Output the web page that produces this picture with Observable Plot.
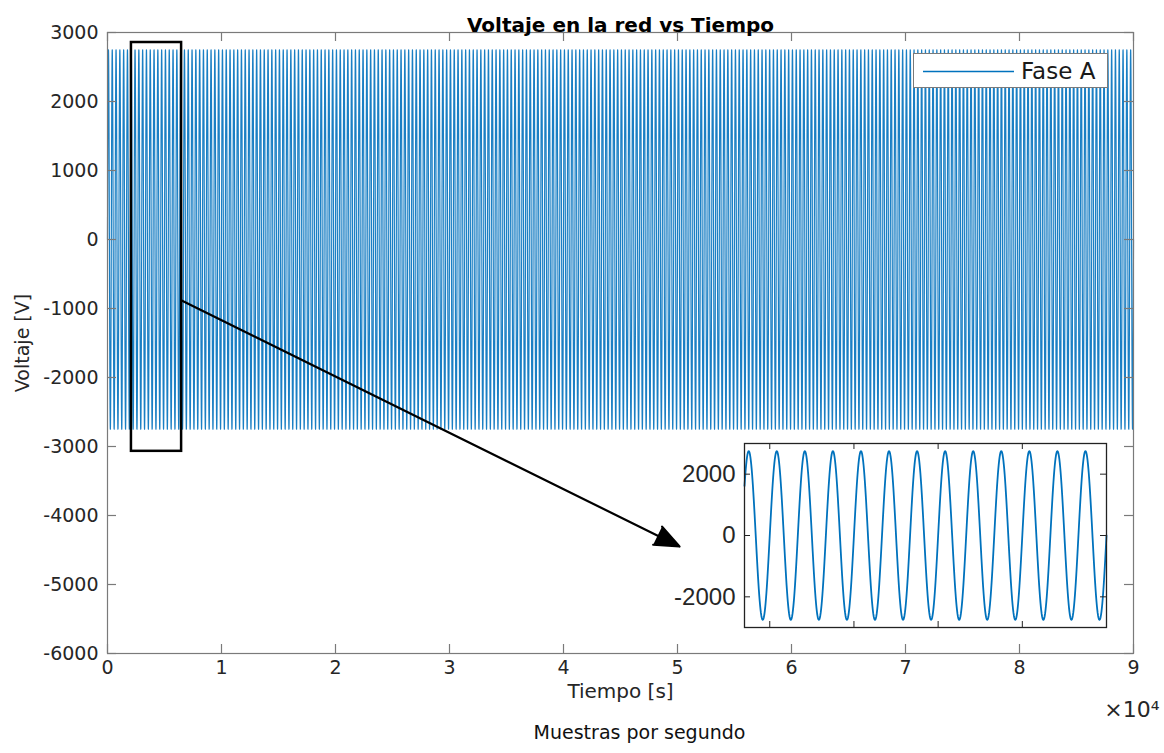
<!DOCTYPE html>
<html>
<head>
<meta charset="utf-8">
<script src="https://cdn.jsdelivr.net/npm/d3@7"></script>
<script src="https://cdn.jsdelivr.net/npm/@observablehq/plot@0.6"></script>
<style>
  body { margin: 0; background: #fff; }
  #wrap { position: relative; width: 1164px; height: 753px; overflow: hidden; background: #fff; font-family: "DejaVu Sans", sans-serif; }
  #main, #inset { position: absolute; }
  #main { left: 0; top: 0; }
  #inset { left: 694px; top: 442px; }
  #legend { position: absolute; left: 913px; top: 53px; width: 195px; height: 35px; box-sizing: border-box; border: 1px solid #7a7a7a; background: #fff; }
  #legend svg { position: absolute; left: 0; top: 0; }
  #legend .label { position: absolute; left: 107px; top: 0; line-height: 34px; font-size: 23px; color: #1a1a1a; font-family: "DejaVu Sans", sans-serif; }
</style>
</head>
<body>
<div id="wrap">
  <div id="main"></div>
  <div id="inset"></div>
  <div id="legend"><svg width="105" height="34"><line x1="9" x2="100" y1="17.5" y2="17.5" stroke="#0072BD" stroke-width="1.4"></line></svg><div class="label"></div></div>
</div>
<script>
// ---- texts ----
const title = "Voltaje en la red vs Tiempo";
const xLabel = "Tiempo [s]";
const yLabel = "Voltaje [V]";
const caption = "Muestras por segundo";
const exponentLabel = "×10⁴";
const seriesName = "Fase A";

// ---- ticks ----
const xTicks = [0, 10000, 20000, 30000, 40000, 50000, 60000, 70000, 80000, 90000];
const xTickLabels = ["0", "1", "2", "3", "4", "5", "6", "7", "8", "9"];
const yTicks = [-6000, -5000, -4000, -3000, -2000, -1000, 0, 1000, 2000, 3000];
const yTickLabels = ["-6000", "-5000", "-4000", "-3000", "-2000", "-1000", "0", "1000", "2000", "3000"];
const xDomain = [0, 90000];
const yDomain = [-6000, 3000];

// ---- signal (peak ~2750 V, ~333 samples per cycle) ----
const peakVoltage = 2750;
const lineFrequencyHz = 60;
const samplesPerSecond = 20000;
const totalSamples = 90000;
const sampleStep = 5;

// ---- zoom annotation ----
const zoomX = [2100, 6500];
const zoomY = [-3070, 2855];
const arrowStart = [6500, -883];
const arrowEnd = [50175, -4449];

// ---- inset ----
const insetXDomain = [2700, 7000];
const insetYDomain = [-3000, 3000];
const insetXTicks = [3000, 4000, 5000, 6000];
const insetYTicks = [-2000, 0, 2000];
const insetYTickLabels = ["-2000", "0", "2000"];

const samples = d3.range(0, totalSamples + 1, sampleStep).map(n => ({
  n,
  v: peakVoltage * Math.sin(2 * Math.PI * lineFrequencyHz * n / samplesPerSecond)
}));
const insetSamples = samples.filter(d => d.n >= insetXDomain[0] && d.n <= insetXDomain[1]);

const W = 1164, H = 753, mt = 32, mr = 31, mb = 100, ml = 107;
const fw = W - ml - mr, fh = H - mt - mb;
const axisGray = "#7a7a7a";
const textGray = "#262626";
const tk = 9;

const main = Plot.plot({
  width: W, height: H,
  marginTop: mt, marginRight: mr, marginBottom: mb, marginLeft: ml,
  style: { fontFamily: "DejaVu Sans, sans-serif", background: "white", overflow: "visible" },
  x: { domain: xDomain },
  y: { domain: yDomain },
  marks: [
    Plot.line(samples, { x: "n", y: "v", stroke: "#1a7fc4", strokeWidth: 1.2 }),
    Plot.frame({ stroke: axisGray, strokeWidth: 1.2 }),
    Plot.tickX(xTicks, { x: d => d, stroke: axisGray, strokeWidth: 1.2, insetTop: fh - tk }),
    Plot.tickX(xTicks, { x: d => d, stroke: axisGray, strokeWidth: 1.2, insetBottom: fh - tk }),
    Plot.tickY(yTicks, { y: d => d, stroke: axisGray, strokeWidth: 1.2, insetRight: fw - tk }),
    Plot.tickY(yTicks, { y: d => d, stroke: axisGray, strokeWidth: 1.2, insetLeft: fw - tk }),
    Plot.axisX({ ticks: xTicks, tickFormat: d => xTickLabels[xTicks.indexOf(d)], tickSize: 0, tickPadding: 7, fontSize: 19, fill: textGray, label: null }),
    Plot.axisY({ ticks: yTicks, tickFormat: d => yTickLabels[yTicks.indexOf(d)], tickSize: 0, tickPadding: 9, fontSize: 19, fill: textGray, label: null }),
    Plot.rect([{ x1: zoomX[0], x2: zoomX[1], y1: zoomY[0], y2: zoomY[1] }], { x1: "x1", x2: "x2", y1: "y1", y2: "y2", stroke: "black", strokeWidth: 2.5, fill: "none" }),
    Plot.arrow([{ x1: arrowStart[0], y1: arrowStart[1], x2: arrowEnd[0], y2: arrowEnd[1] }], { x1: "x1", y1: "y1", x2: "x2", y2: "y2", stroke: "black", fill: "black", strokeWidth: 2.2, headLength: 18, headAngle: 45 }),
    Plot.text([title], { frameAnchor: "top", dy: -15, fontSize: 20, fontWeight: "bold", fill: "black" }),
    Plot.text([xLabel], { frameAnchor: "bottom", dy: 44, fontSize: 20, fill: textGray }),
    Plot.text([caption], { frameAnchor: "bottom", dx: 19, dy: 85, fontSize: 19, fill: "#111" }),
    Plot.text([exponentLabel], { frameAnchor: "bottom-right", dx: 26, dy: 63, textAnchor: "end", fontSize: 22, fill: textGray }),
    Plot.text([yLabel], { frameAnchor: "left", dx: -85, rotate: -90, textAnchor: "middle", fontSize: 19, fill: textGray })
  ]
});
document.getElementById("main").appendChild(main);

const iW = 412, iH = 186, iml = 50, imt = 1, imr = 0, imb = 1;
const ifw = iW - iml - imr, ifh = iH - imt - imb;
const ik = 6;
const inset = Plot.plot({
  width: iW, height: iH,
  marginTop: imt, marginRight: imr, marginBottom: imb, marginLeft: iml,
  style: { fontFamily: "Liberation Sans, Arial, sans-serif", background: "transparent", overflow: "visible" },
  x: { domain: insetXDomain, axis: null },
  y: { domain: insetYDomain },
  marks: [
    Plot.frame({ fill: "white", stroke: "none" }),
    Plot.line(insetSamples, { x: "n", y: "v", stroke: "#0072BD", strokeWidth: 1.8 }),
    Plot.frame({ stroke: "#222", strokeWidth: 1.3 }),
    Plot.tickX(insetXTicks, { x: d => d, stroke: "#222", insetTop: ifh - ik }),
    Plot.tickX(insetXTicks, { x: d => d, stroke: "#222", insetBottom: ifh - ik }),
    Plot.tickY(insetYTicks, { y: d => d, stroke: "#222", insetRight: ifw - ik }),
    Plot.tickY(insetYTicks, { y: d => d, stroke: "#222", insetLeft: ifw - ik }),
    Plot.axisY({ ticks: insetYTicks, tickFormat: d => insetYTickLabels[insetYTicks.indexOf(d)], tickSize: 0, tickPadding: 9, fontSize: 24, fill: textGray, label: null })
  ]
});
document.getElementById("inset").appendChild(inset);

document.querySelector("#legend .label").textContent = seriesName;
</script>
</body>
</html>
